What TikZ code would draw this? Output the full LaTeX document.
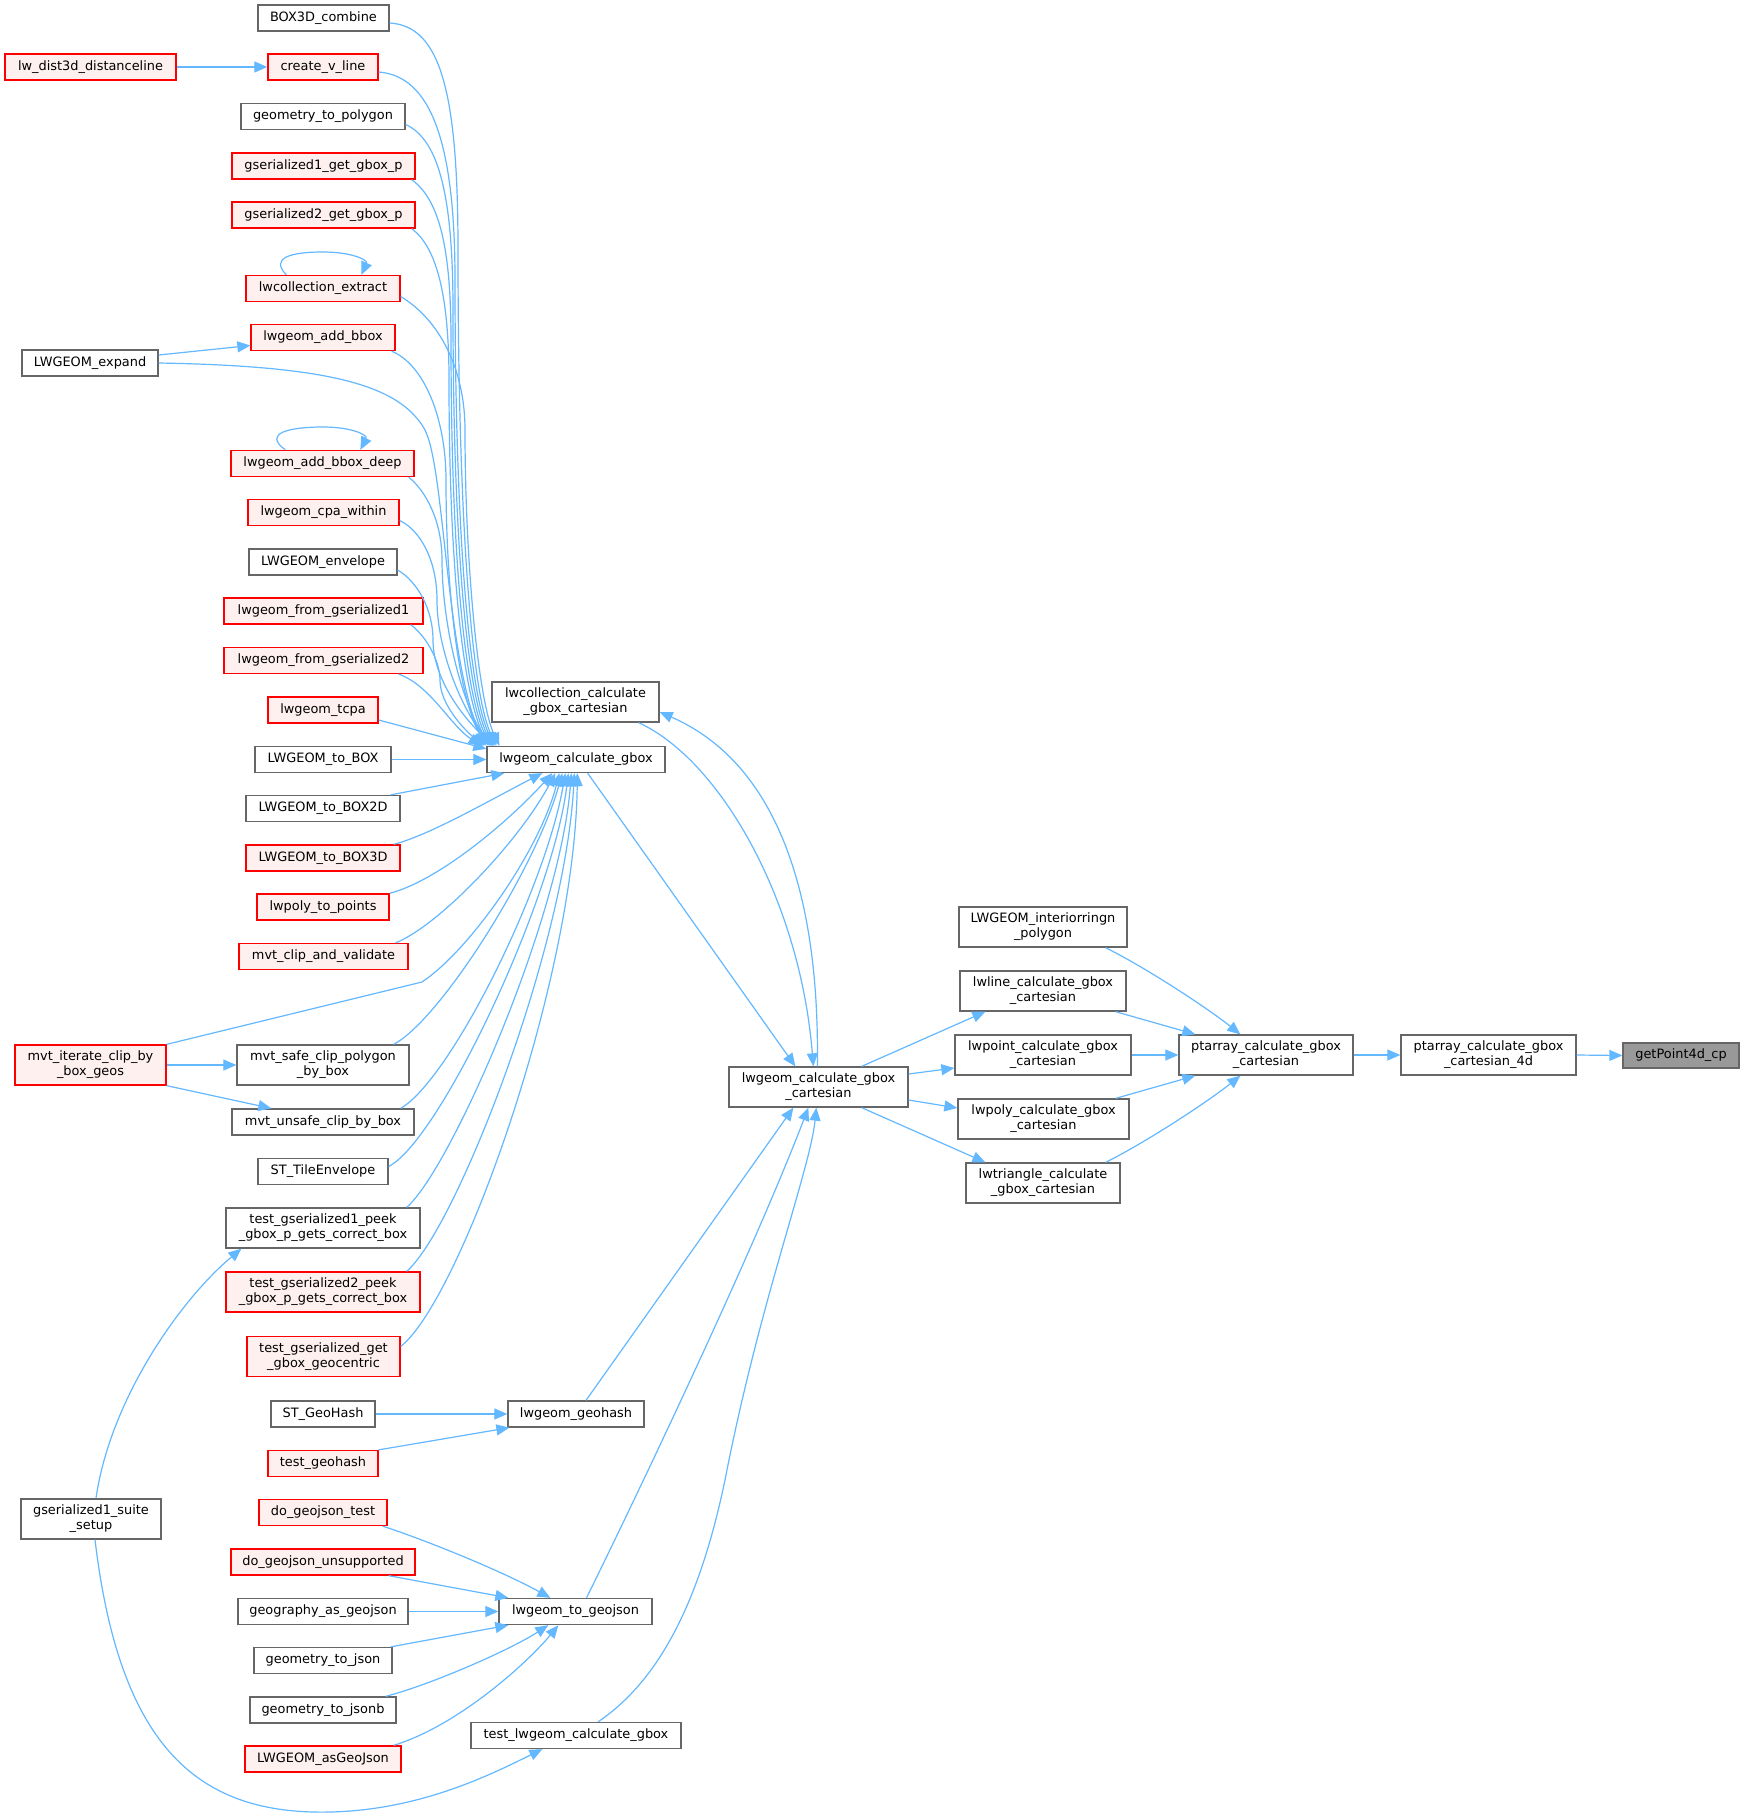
\documentclass[tikz,border=0pt]{standalone}
\usepackage{fontspec}
\setmainfont{DejaVu Sans}
\usetikzlibrary{arrows.meta,calc}
\definecolor{edgec}{HTML}{63B8FF}
\definecolor{graybd}{HTML}{666666}
\definecolor{redbd}{HTML}{FF0000}
\definecolor{redfill}{HTML}{FFF0F0}
\definecolor{hlfill}{HTML}{999999}
\tikzset{
  box/.style={draw=graybd, line width=1.3pt, fill=white, inner sep=0pt,
    font=\fontsize{12.9}{15}\selectfont, align=center, minimum height=26pt, text=black},
  redbox/.style={box, draw=redbd, fill=redfill},
  hlbox/.style={box, fill=hlfill},
  two/.style={minimum height=40pt},
  conn/.style={draw=edgec, line width=1.2pt, -{Triangle[length=13pt,width=11pt]}},
}
\begin{document}
\begin{tikzpicture}[x=1pt,y=-1pt]
\fill[white] (0,0) rectangle (1744,1818);
\useasboundingbox (0,0) rectangle (1744,1818);
% left column
\node[box,minimum width=131pt] (n1) at (323.5,18) {BOX3D\_combine};
\node[redbox,minimum width=110pt] (n2) at (323,67) {create\_v\_line};
\node[redbox,minimum width=171pt] (n3) at (90.5,67) {lw\_dist3d\_distanceline};
\node[box,minimum width=164pt] (n4) at (323,116.5) {geometry\_to\_polygon};
\node[redbox,minimum width=183pt] (n5) at (323.5,166) {gserialized1\_get\_gbox\_p};
\node[redbox,minimum width=183pt] (n6) at (323.5,215) {gserialized2\_get\_gbox\_p};
\node[redbox,minimum width=154pt] (n7) at (323,288.5) {lwcollection\_extract};
\node[redbox,minimum width=144pt] (n8) at (323,337.5) {lwgeom\_add\_bbox};
\node[box,minimum width=136pt] (n9) at (90,363) {LWGEOM\_expand};
\node[redbox,minimum width=183pt] (n10) at (322.5,463.5) {lwgeom\_add\_bbox\_deep};
\node[redbox,minimum width=151pt] (n11) at (323.5,512.5) {lwgeom\_cpa\_within};
\node[box,minimum width=148pt] (n12) at (323,562) {LWGEOM\_envelope};
\node[redbox,minimum width=199pt] (n13) at (323.5,611) {lwgeom\_from\_gserialized1};
\node[redbox,minimum width=199pt] (n14) at (323.5,660.5) {lwgeom\_from\_gserialized2};
\node[redbox,minimum width=110pt] (n15) at (323,710) {lwgeom\_tcpa};
\node[box,minimum width=136pt] (n16) at (323,759.5) {LWGEOM\_to\_BOX};
\node[box,minimum width=154pt] (n17) at (323,808.5) {LWGEOM\_to\_BOX2D};
\node[redbox,minimum width=154pt] (n18) at (323,858) {LWGEOM\_to\_BOX3D};
\node[redbox,minimum width=132pt] (n19) at (323,907) {lwpoly\_to\_points};
\node[redbox,minimum width=169pt] (n20) at (323.5,956.5) {mvt\_clip\_and\_validate};
\node[redbox,two,minimum width=151pt] (n21) at (90.5,1065) {mvt\_iterate\_clip\_by\\\_box\_geos};
\node[box,two,minimum width=172pt] (n22) at (323,1065) {mvt\_safe\_clip\_polygon\\\_by\_box};
\node[box,minimum width=182pt] (n23) at (323,1122) {mvt\_unsafe\_clip\_by\_box};
\node[box,minimum width=130pt] (n24) at (323,1171.5) {ST\_TileEnvelope};
\node[box,two,minimum width=194pt] (n25) at (323,1228) {test\_gserialized1\_peek\\\_gbox\_p\_gets\_correct\_box};
\node[redbox,two,minimum width=194pt] (n26) at (323,1292) {test\_gserialized2\_peek\\\_gbox\_p\_gets\_correct\_box};
\node[redbox,two,minimum width=153pt] (n27) at (323.5,1356.5) {test\_gserialized\_get\\\_gbox\_geocentric};
\node[box,minimum width=104pt] (n28) at (323,1414) {ST\_GeoHash};
\node[redbox,minimum width=110pt] (n29) at (323,1463.5) {test\_geohash};
\node[box,two,minimum width=140pt] (n30) at (91,1519) {gserialized1\_suite\\\_setup};
\node[redbox,minimum width=128pt] (n31) at (323,1512.5) {do\_geojson\_test};
\node[redbox,minimum width=184pt] (n32) at (323,1562) {do\_geojson\_unsupported};
\node[box,minimum width=170pt] (n33) at (323,1611.5) {geography\_as\_geojson};
\node[box,minimum width=138pt] (n34) at (323,1660.5) {geometry\_to\_json};
\node[box,minimum width=146pt] (n35) at (323,1710) {geometry\_to\_jsonb};
\node[redbox,minimum width=156pt] (n36) at (323,1759) {LWGEOM\_asGeoJson};
% middle
\node[box,minimum width=178pt] (G) at (576,759.5) {lwgeom\_calculate\_gbox};
\node[box,two,minimum width=167pt] (LC) at (575.5,702) {lwcollection\_calculate\\\_gbox\_cartesian};
\node[box,minimum width=136pt] (GH) at (576,1414) {lwgeom\_geohash};
\node[box,minimum width=153pt] (GJ) at (575.5,1611.5) {lwgeom\_to\_geojson};
\node[box,minimum width=210pt] (TL) at (576,1735.5) {test\_lwgeom\_calculate\_gbox};
\node[box,two,minimum width=179pt] (C) at (818.5,1087) {lwgeom\_calculate\_gbox\\\_cartesian};
% right
\node[box,two,minimum width=168pt] (R1) at (1043,927) {LWGEOM\_interiorringn\\\_polygon};
\node[box,two,minimum width=166pt] (R2) at (1043,991) {lwline\_calculate\_gbox\\\_cartesian};
\node[box,two,minimum width=176pt] (R3) at (1043,1055) {lwpoint\_calculate\_gbox\\\_cartesian};
\node[box,two,minimum width=171pt] (R4) at (1043.5,1119) {lwpoly\_calculate\_gbox\\\_cartesian};
\node[box,two,minimum width=154pt] (R5) at (1043,1183) {lwtriangle\_calculate\\\_gbox\_cartesian};
\node[box,two,minimum width=174pt] (P) at (1266,1055) {ptarray\_calculate\_gbox\\\_cartesian};
\node[box,two,minimum width=175pt] (P4) at (1488.5,1055) {ptarray\_calculate\_gbox\\\_cartesian\_4d};
\node[hlbox,minimum width=116pt,minimum height=25pt] (GP) at (1681,1055.5) {getPoint4d\_cp};

% self loops
\draw[conn] ($(n7.north west)+(41,0)$) .. controls (270,258) and (290,252) .. (323,252) .. controls (352,252) and (368,260) .. ($(n7.north west)+(116,0)$);
\draw[conn] ($(n10.north west)+(55,0)$) .. controls (262,433) and (290,427) .. (323,427) .. controls (352,427) and (368,435) .. ($(n10.north west)+(130,0)$);

% edges to lwgeom_calculate_gbox (top)
\draw[conn] ($(n1.east)+(0,5)$) .. controls (440,26) and (458,90) .. (458,250) .. controls (458,500) and (470,690) .. ($(G.north west)+(10,0)$);
\draw[conn] ($(n2.east)+(0,5)$) .. controls (430,76) and (455,140) .. (455,280) .. controls (455,520) and (468,690) .. ($(G.north west)+(8,0)$);
\draw[conn] ($(n4.east)+(0,8)$) .. controls (440,140) and (453,200) .. (453,310) .. controls (453,530) and (466,690) .. ($(G.north west)+(6,0)$);
\draw[conn] ($(n5.south east)+(-4,0)$) .. controls (440,200) and (451,250) .. (451,340) .. controls (451,550) and (464,690) .. ($(G.north west)+(4,0)$);
\draw[conn] ($(n6.south east)+(-4,0)$) .. controls (438,248) and (449,300) .. (449,380) .. controls (449,560) and (462,690) .. ($(G.north west)+(2,0)$);
\draw[conn] ($(n7.east)+(0,8)$) .. controls (440,320) and (465,370) .. (465,430) .. controls (465,560) and (478,700) .. ($(G.north west)+(13,0)$);
\draw[conn] ($(n8.south east)+(-4,0)$) .. controls (425,365) and (446,420) .. (446,480) .. controls (446,600) and (460,700) .. ($(G.north west)+(0,0)$);
\draw[conn] (n9.east) .. controls (330,366) and (400,385) .. (425,430) .. controls (445,470) and (445,650) .. ($(G.north west)+(-2,0)$);
\draw[conn] ($(n10.south east)+(-6,0)$) .. controls (425,490) and (442,520) .. (442,560) .. controls (442,620) and (460,700) .. ($(G.north west)+(4,0)$);
\draw[conn] ($(n11.east)+(0,8)$) .. controls (420,530) and (437,560) .. (437,600) .. controls (437,650) and (462,710) .. ($(G.north west)+(6,0)$);
\draw[conn] ($(n12.east)+(0,8)$) .. controls (418,582) and (433,610) .. (433,640) .. controls (433,680) and (465,720) .. ($(G.north west)+(8,0)$);
\draw[conn] ($(n13.south east)+(-13,0)$) .. controls (425,635) and (440,660) .. (440,680) .. controls (440,705) and (465,730) .. ($(G.north west)+(-3,0)$);
\draw[conn] ($(n14.south east)+(-25,0)$) .. controls (430,685) and (450,725) .. ($(G.north west)+(-5,0)$);
\draw[conn] ($(n15.east)+(0,10)$) -- ($(G.north west)+(0,3)$);
\draw[conn] (n16.east) -- (G.west);
% edges to lwgeom_calculate_gbox (bottom)
\draw[conn] ($(n17.north east)+(-10,0)$) -- ($(G.south west)+(18,0)$);
\draw[conn] ($(n18.north east)+(-7,0)$) .. controls (430,835) and (490,800) .. ($(G.south west)+(56,0)$);
\draw[conn] (n19.north east) .. controls (440,880) and (510,820) .. ($(G.south west)+(66,0)$);
\draw[conn] ($(n20.north east)+(-13,0)$) .. controls (440,925) and (520,840) .. ($(G.south west)+(69,0)$);
\draw[conn] (n21.north east) -- (422,982) .. controls (470,950) and (540,850) .. ($(G.south west)+(73,0)$);
\draw[conn] ($(n22.north east)+(-16,0)$) .. controls (440,1020) and (535,870) .. ($(G.south west)+(76,0)$);
\draw[conn] ($(n23.north east)+(-14,0)$) .. controls (450,1080) and (545,890) .. ($(G.south west)+(79,0)$);
\draw[conn] ($(n24.east)+(0,-5)$) .. controls (440,1140) and (553,900) .. ($(G.south west)+(82,0)$);
\draw[conn] ($(n25.north east)+(-14,0)$) .. controls (450,1170) and (560,920) .. ($(G.south west)+(85,0)$);
\draw[conn] ($(n26.north east)+(-14,0)$) .. controls (455,1230) and (565,950) .. ($(G.south west)+(88,0)$);
\draw[conn] ($(n27.east)+(0,-10)$) .. controls (460,1300) and (575,980) .. ($(G.south west)+(91,0)$);

% other left edges
\draw[conn] (n3.east) -- (n2.west);
\draw[conn] ($(n9.east)+(0,-8)$) -- ($(n8.west)+(0,8)$);
\draw[conn] (n21.east) -- (n22.west);
\draw[conn] (n21.south east) -- ($(n23.north west)+(40,0)$);
\draw[conn] ($(n30.north)+(5,0)$) .. controls (110,1400) and (180,1300) .. ($(n25.south west)+(16,0)$);
\draw[conn] ($(n30.south)+(4,0)$) .. controls (120,1750) and (200,1815) .. (330,1812) .. controls (420,1810) and (490,1775) .. ($(TL.south west)+(72,0)$);
\draw[conn] (n28.east) -- (GH.west);
\draw[conn] (n29.north east) -- ($(GH.south west)+(2,0)$);
\draw[conn] ($(n31.south east)+(-5,0)$) .. controls (420,1538) and (500,1570) .. ($(GJ.north west)+(52,0)$);
\draw[conn] ($(n32.south east)+(-27,0)$) -- ($(GJ.north west)+(10,0)$);
\draw[conn] (n33.east) -- (GJ.west);
\draw[conn] ($(n34.north east)+(-2,0)$) -- ($(GJ.south west)+(10,0)$);
\draw[conn] ($(n35.north east)+(-11,0)$) .. controls (430,1685) and (510,1650) .. ($(GJ.south west)+(50,0)$);
\draw[conn] ($(n36.north east)+(-8,0)$) .. controls (460,1725) and (530,1660) .. ($(GJ.south west)+(60,0)$);

% middle edges to cartesian
\draw[conn] ($(GH.north)+(10,0)$) -- ($(C.south west)+(65,0)$);
\draw[conn] ($(GJ.north)+(11,0)$) .. controls (625,1520) and (750,1260) .. ($(C.south west)+(80,0)$);
\draw[conn] ($(TL.north)+(22,0)$) .. controls (660,1680) and (700,1600) .. (725,1480) .. controls (760,1300) and (810,1170) .. ($(C.south west)+(88,0)$);
\draw[conn] ($(G.south east)+(-78,0)$) -- ($(C.north west)+(67,0)$);
\draw[conn] ($(LC.south east)+(-21,0)$) .. controls (720,760) and (800,900) .. ($(C.north west)+(85,0)$);
\draw[conn] ($(C.north west)+(89,0)$) .. controls (820,880) and (770,760) .. ($(LC.east)+(0,10)$);

% right edges
\draw[conn] ($(C.north east)+(-47,0)$) -- ($(R2.south west)+(26,0)$);
\draw[conn] ($(C.east)+(0,-13)$) -- ($(R3.west)+(0,13)$);
\draw[conn] ($(C.east)+(0,13)$) -- ($(R4.west)+(0,-11)$);
\draw[conn] ($(C.south east)+(-47,0)$) -- ($(R5.north west)+(20,0)$);
\draw[conn] ($(R1.south east)+(-22,0)$) .. controls (1150,970) and (1210,1010) .. ($(P.north west)+(62,0)$);
\draw[conn] ($(R2.south east)+(-11,0)$) -- ($(P.north west)+(17,0)$);
\draw[conn] (R3.east) -- (P.west);
\draw[conn] ($(R4.north east)+(-14,0)$) -- ($(P.south west)+(17,0)$);
\draw[conn] ($(R5.north east)+(-15,0)$) .. controls (1150,1140) and (1210,1100) .. ($(P.south west)+(62,0)$);
\draw[conn] (P.east) -- (P4.west);
\draw[conn] (P4.east) -- (GP.west);
\end{tikzpicture}
\end{document}
